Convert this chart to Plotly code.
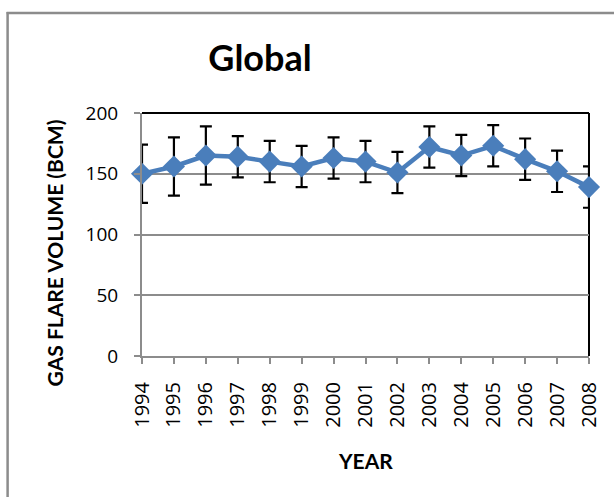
import plotly.graph_objects as go

years = list(range(1994, 2009))
year_labels = [str(y) for y in years]
volume = [150, 156, 165, 164, 160, 156, 163, 160, 151, 172, 165, 173, 162, 152, 139]
error = [24, 24, 24, 17, 17, 17, 17, 17, 17, 17, 17, 17, 17, 17, 17]
y_ticks = [0, 50, 100, 150, 200]

W, H = 614, 497
L, R, T, B = 142, 23, 113, 141
pw, ph = W - L - R, H - T - B

def px_x(x):
    return (x - L) / pw

def px_y(y):
    return (H - B - y) / ph

TFONT = "Lato"
NFONT = "Open Sans"
BLUE = "#4A7EBB"
GRAY = "#8C8C8C"

fig = go.Figure()
fig.add_trace(go.Scatter(
    x=years, y=volume,
    mode="lines+markers",
    line=dict(color=BLUE, width=4.5),
    marker=dict(symbol="diamond", size=17, color=BLUE),
    error_y=dict(type="data", array=error, visible=True, color="black", thickness=2.2, width=6),
    cliponaxis=False,
    showlegend=False,
))

shapes = [
    dict(type="line", xref="paper", yref="paper", x0=px_x(7), x1=px_x(7), y0=px_y(12), y1=px_y(510),
         line=dict(color=GRAY, width=2.5)),
    dict(type="line", xref="paper", yref="paper", x0=px_x(6), x1=px_x(630), y0=px_y(13), y1=px_y(13),
         line=dict(color=GRAY, width=2.5)),
    dict(type="line", xref="paper", yref="paper", x0=0, x1=1, y0=1, y1=1,
         line=dict(color="black", width=2), layer="below"),
    dict(type="line", xref="paper", yref="paper", x0=1, x1=1, y0=0, y1=1,
         line=dict(color="black", width=2), layer="below"),
]

annotations = [
    dict(text="<b>GAS FLARE VOLUME (BCM)</b>", xref="paper", yref="paper",
         x=px_x(54), y=px_y(253), xanchor="center", yanchor="middle", textangle=-90,
         showarrow=False, font=dict(size=21, family=TFONT, color="black")),
    dict(text="<b>YEAR</b>", xref="paper", yref="paper",
         x=px_x(367), y=px_y(460), xanchor="center", yanchor="middle",
         showarrow=False, font=dict(size=21, family=TFONT, color="black")),
]

fig.update_layout(
    width=W, height=H,
    margin=dict(l=L, r=R, t=T, b=B),
    paper_bgcolor="white", plot_bgcolor="white",
    font=dict(family=NFONT, color="black"),
    title=dict(text="<b>Global</b>", x=260 / W, xanchor="center",
               y=1 - 58 / H, yanchor="middle", font=dict(size=36, family=TFONT, color="black")),
    shapes=shapes,
    annotations=annotations,
    xaxis=dict(
        range=[1994, 2008], tickmode="array", tickvals=years, ticktext=year_labels,
        tickangle=-90, tickfont=dict(size=20, family=NFONT), showgrid=False, zeroline=False,
        showline=True, linecolor=GRAY, linewidth=2,
        ticks="outside", ticklen=6, tickcolor=GRAY, tickwidth=1.5, ticklabelstandoff=10,
    ),
    yaxis=dict(
        range=[0, 200], tickmode="array", tickvals=y_ticks, ticktext=[str(v) for v in y_ticks],
        tickfont=dict(size=19, family=NFONT), showgrid=True, gridcolor=GRAY, gridwidth=1.5,
        zeroline=False, showline=True, linecolor=GRAY, linewidth=2,
        ticks="outside", ticklen=6, tickcolor=GRAY, tickwidth=1.5, ticklabelstandoff=12,
    ),
)

fig.write_html("out.html", config={"displayModeBar": False},
               post_script="document.body.style.margin='0px';document.body.style.overflow='hidden';")
